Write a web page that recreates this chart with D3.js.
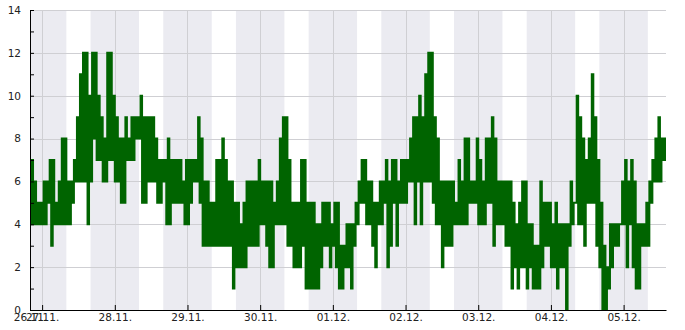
<!DOCTYPE html>
<html>
<head>
<meta charset="utf-8">
<script src="https://cdn.jsdelivr.net/npm/d3@7"></script>
<style>
  body { margin: 0; background: #fff; }
  svg { display: block; font-family: "DejaVu Sans", sans-serif; }
</style>
</head>
<body>
<script>
// first sample and last shown time
var startTime = new Date(2015, 10, 26, 20, 0);
var endTime = new Date(2015, 11, 5, 14, 0);

// hourly highs and lows, from startTime on
var hi = [7, 6, 5, 5, 6, 6, 7, 7, 5, 6, 8, 8, 6, 6, 7, 9, 11, 12, 12, 10,
  12, 12, 10, 9, 8, 12, 12, 10, 9, 8, 8, 9, 8, 9, 9, 9, 10, 9, 9, 9,
  9, 8, 7, 7, 7, 8, 7, 7, 7, 7, 6, 7, 7, 7, 7, 9, 8, 6, 6, 5,
  5, 7, 7, 8, 7, 6, 6, 5, 5, 4, 5, 6, 6, 6, 6, 7, 6, 6, 6, 6,
  5, 6, 8, 9, 9, 7, 5, 5, 5, 7, 7, 5, 5, 5, 4, 4, 5, 5, 5, 4,
  5, 5, 3, 3, 4, 4, 4, 5, 6, 7, 7, 6, 6, 5, 5, 6, 6, 7, 6, 7,
  7, 6, 7, 7, 7, 8, 9, 9, 10, 9, 11, 12, 12, 9, 8, 6, 6, 6, 6, 6,
  5, 7, 6, 8, 8, 6, 6, 8, 7, 6, 8, 8, 9, 8, 6, 6, 6, 6, 6, 5,
  4, 5, 6, 6, 4, 4, 3, 3, 6, 5, 5, 5, 4, 5, 4, 4, 4, 4, 6, 5,
  10, 9, 8, 7, 8, 11, 9, 7, 5, 3, 2, 4, 4, 4, 4, 6, 7, 6, 7, 6,
  4, 4, 4, 5, 6, 7, 8, 9, 8, 8, 8];
var lo = [4, 4, 4, 4, 4, 4, 5, 3, 4, 4, 4, 4, 4, 4, 5, 6, 6, 6, 6, 4,
  6, 8, 7, 7, 6, 6, 7, 7, 6, 6, 5, 5, 7, 7, 7, 8, 8, 5, 5, 6,
  6, 6, 5, 5, 6, 4, 4, 5, 5, 5, 5, 4, 4, 5, 6, 6, 5, 3, 3, 3,
  3, 3, 3, 3, 3, 3, 3, 1, 2, 2, 2, 2, 3, 3, 3, 3, 4, 4, 3, 2,
  2, 4, 4, 4, 4, 3, 3, 2, 2, 2, 3, 1, 1, 1, 1, 1, 2, 3, 3, 2,
  3, 2, 1, 1, 2, 2, 1, 3, 4, 5, 5, 4, 4, 3, 2, 4, 4, 5, 2, 3,
  5, 3, 5, 5, 5, 6, 6, 4, 6, 4, 6, 6, 6, 5, 4, 4, 2, 3, 3, 3,
  4, 4, 4, 4, 4, 5, 5, 5, 4, 4, 4, 5, 5, 3, 4, 4, 4, 3, 3, 1,
  2, 1, 2, 2, 1, 2, 1, 1, 1, 2, 3, 3, 2, 2, 1, 2, 2, 0, 3, 4,
  5, 4, 4, 3, 5, 5, 5, 3, 2, 0, 0, 1, 2, 3, 3, 4, 4, 2, 4, 2,
  1, 1, 3, 3, 3, 5, 6, 6, 6, 7, 7];

var yTicks = d3.range(0, 15);
var nightFrom = 16, nightTo = 8;

var width = 685, height = 330;
var margin = {left: 30, right: 19, top: 10, bottom: 20};
var w = width - margin.left - margin.right;
var h = height - margin.top - margin.bottom;

// build points: low then high within each hour
var points = [];
hi.forEach(function(v, i) {
  var t0 = d3.timeMinute.offset(startTime, i * 60);
  points.push({t: t0, v: lo[i]});
  points.push({t: d3.timeMinute.offset(t0, 30), v: v});
});

var x = d3.scaleTime().domain([startTime, endTime]).range([0, w]);
var y = d3.scaleLinear().domain([0, 14]).range([h, 0]);

var svg = d3.select('body').append('svg')
  .attr('width', width)
  .attr('height', height);

var g = svg.append('g')
  .attr('transform', 'translate(' + margin.left + ',' + margin.top + ')');

svg.append('defs').append('clipPath').attr('id', 'clip')
  .append('rect').attr('width', w).attr('height', h);

// shaded bands 16:00 - 08:00
var bands = [];
d3.timeDay.range(d3.timeDay.offset(startTime, -1), endTime).forEach(function(d) {
  var a = d3.timeHour.offset(d, nightFrom);
  var b = d3.timeHour.offset(d, 24 + nightTo);
  if (b > startTime && a < endTime) {
    bands.push([a < startTime ? startTime : a, b > endTime ? endTime : b]);
  }
});

g.append('g')
  .selectAll('rect')
  .data(bands)
  .enter()
  .append('rect')
  .attr('x', function(d) { return x(d[0]); })
  .attr('y', 0)
  .attr('width', function(d) { return x(d[1]) - x(d[0]); })
  .attr('height', h)
  .attr('fill', '#ebebf1');

var days = d3.timeDay.range(d3.timeDay.ceil(startTime), endTime);

// grid
g.append('g')
  .selectAll('line')
  .data(yTicks.filter(function(d) { return d % 2 === 0 && d > 0; }))
  .enter()
  .append('line')
  .attr('x1', 0)
  .attr('x2', w)
  .attr('y1', function(d) { return Math.round(y(d)) + 0.5; })
  .attr('y2', function(d) { return Math.round(y(d)) + 0.5; })
  .attr('stroke', '#cfcfd3');

g.append('g')
  .selectAll('line')
  .data(days)
  .enter()
  .append('line')
  .attr('x1', function(d) { return Math.round(x(d)) + 0.5; })
  .attr('x2', function(d) { return Math.round(x(d)) + 0.5; })
  .attr('y1', 0)
  .attr('y2', h)
  .attr('stroke', '#cfcfd3');

// data line
var line = d3.line()
  .x(function(d) { return x(d.t); })
  .y(function(d) { return y(d.v); })
  .curve(d3.curveStepAfter);

g.append('path')
  .datum(points)
  .attr('clip-path', 'url(#clip)')
  .attr('fill', 'none')
  .attr('stroke', '#006400')
  .attr('stroke-width', 2)
  .attr('d', line);

// axes
var yAxis = d3.axisLeft(y)
  .tickValues(yTicks)
  .tickSize(-4)
  .tickSizeOuter(0)
  .tickPadding(9)
  .tickFormat(function(d) { return d % 2 ? '' : d; });

var xAxis = d3.axisBottom(x)
  .tickValues([startTime].concat(days))
  .tickSize(-5)
  .tickSizeOuter(0)
  .tickPadding(4)
  .tickFormat(d3.timeFormat('%d.%m.'));

var ya = g.append('g').call(yAxis);
var xa = g.append('g').attr('transform', 'translate(0,' + h + ')').call(xAxis);

[ya, xa].forEach(function(a) {
  a.selectAll('path, line').attr('stroke', '#000');
  a.selectAll('text')
    .attr('fill', '#222')
    .style('font-size', '10.5px')
    .style('font-family', '"DejaVu Sans", sans-serif');
});
</script>
</body>
</html>
